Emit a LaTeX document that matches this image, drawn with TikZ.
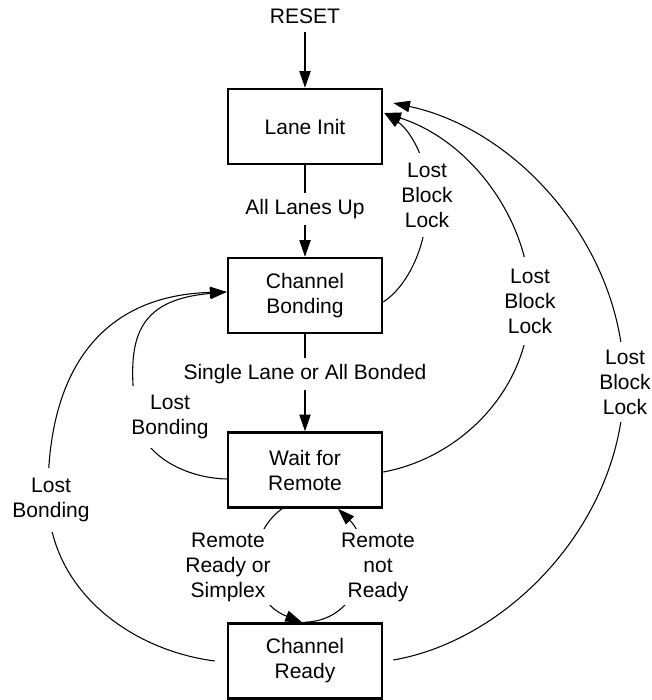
\documentclass[tikz,border=0pt]{standalone}
\usepackage{fontspec}
\setmainfont{Liberation Sans}
\usetikzlibrary{arrows.meta,calc}
\begin{document}
\begin{tikzpicture}[x=0.75pt,y=-0.75pt,
  every node/.style={font=\fontsize{15.75pt}{18.75pt}\selectfont},
  stbox/.style={draw, line width=1.9pt, minimum width=115.5pt, minimum height=56.25pt, align=center, inner sep=0pt},
  lbl/.style={fill=white, align=center, inner xsep=1.5pt, inner ysep=4.5pt},
  arr/.style={line width=0.8pt, -{Triangle[length=12.5pt,width=8.5pt]}}]
\useasboundingbox (0,0) rectangle (652,700);

% states
\node[stbox] (li) at (305,126.5) {Lane Init};
\node[stbox] (cb) at (305,295.5) {Channel\\Bonding};
\node[stbox] (wr) at (305,470) {Wait for\\Remote};
\node[stbox] (cr) at (305,661) {Channel\\Ready};
\node[inner sep=6pt] (reset) at (305,16) {RESET};

% straight transitions
\draw[arr] (reset) -- (li);
\draw[arr] (li) -- node[lbl,pos=0.48]{All Lanes Up} (cb);
\draw[arr] (cb) -- node[lbl,pos=0.41]{Single Lane or All Bonded} (wr);

% Lost Block Lock transitions
\draw[arr] ($(cb.east)+(0,6.5)$) .. controls (405,288) and (428,250) .. (428,195)
  .. controls (428,160) and (410,130) .. ($(li.east)+(1,-13.5)$);
\draw[arr] ($(wr.east)+(0,2)$) .. controls (460,458) and (530,390) .. (530,301)
  .. controls (530,220) and (470,140) .. ($(li.east)+(1,-13.5)$);
\draw[arr] ($(cr.east)+(10,-1)$) .. controls (510,640) and (624,520) .. (624,382)
  .. controls (624,250) and (520,130) .. ($(li.east)+(10,-23.5)$);

% Lost Bonding transitions
\draw[arr] ($(wr.west)+(0,9)$) .. controls (185,478) and (140,455) .. (136,415)
  .. controls (126,340) and (135,300) .. ($(cb.west)+(0,-3.5)$);
\draw[arr] ($(cr.west)+(-12,0)$) .. controls (130,650) and (50,590) .. (48,500)
  .. controls (46,360) and (110,295) .. ($(cb.west)+(0,-3.5)$);

% Remote transitions
\draw[arr] ($(wr.south)+(-23,0)$) .. controls (245,535) and (245,600) .. ($(cr.north)+(-3,0)$);
\draw[arr] (cr.north) .. controls (365,620) and (375,545) .. ($(wr.south)+(33,0)$);

% labels
\node[lbl, inner xsep=1pt, inner ysep=7pt] (t1) at (427,195) {Lost\\Block\\Lock};
\node[lbl, inner ysep=8.5pt] (t2) at (530,301) {Lost\\Block\\Lock};
\node[lbl, inner ysep=5.5pt] (t3) at (625,382) {Lost\\Block\\Lock};
\node[lbl, inner xsep=3pt, inner ysep=7pt] (t4) at (170,417) {Lost\\Bonding};
\node[lbl, inner ysep=7.5pt] (t5) at (51,500) {Lost\\Bonding};
\node[lbl, inner ysep=3pt] (t6) at (228,567) {Remote\\Ready or\\Simplex};
\node[lbl, inner ysep=3pt] (t7) at (378,567) {Remote\\not\\Ready};
\end{tikzpicture}
\end{document}
